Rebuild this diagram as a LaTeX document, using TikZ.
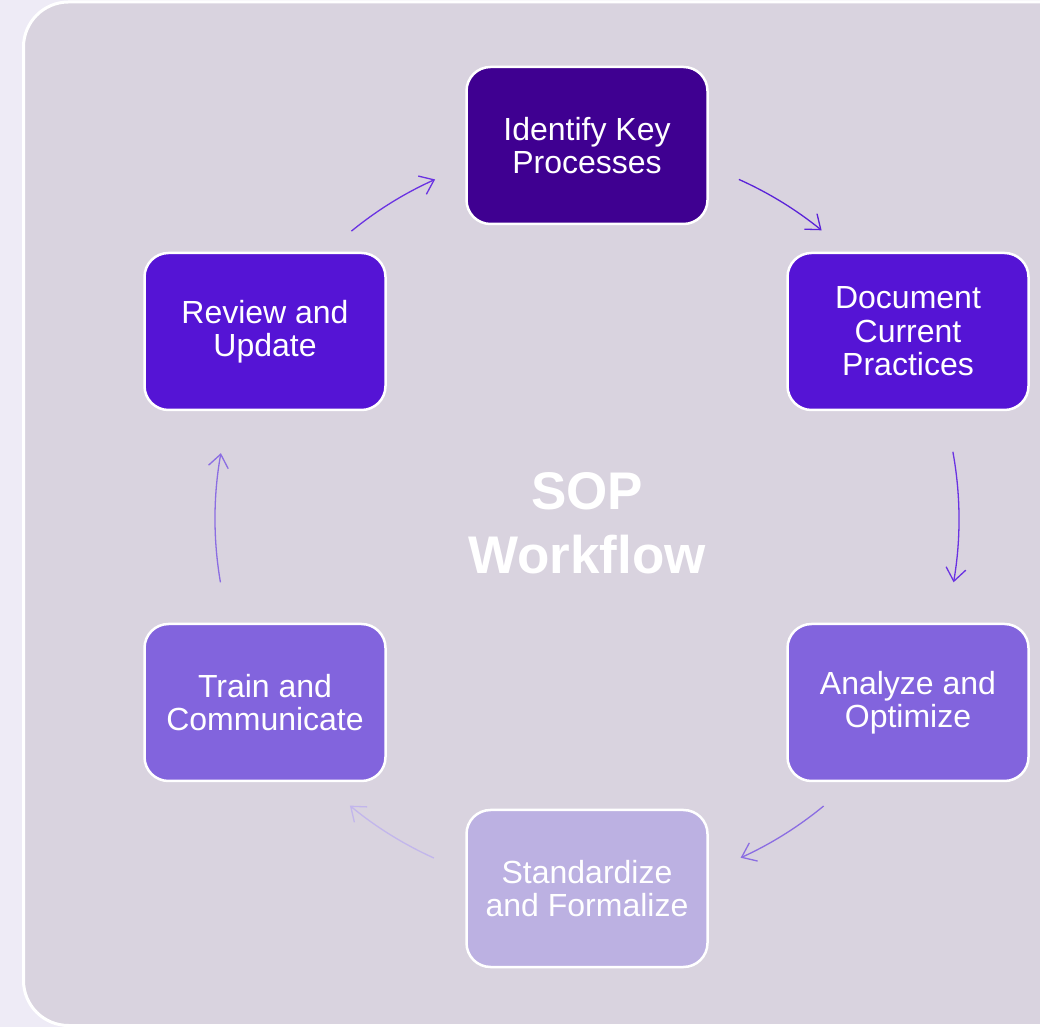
\documentclass[tikz,border=0pt]{standalone}
\usepackage{fontspec}
\setmainfont{Liberation Sans}
\usetikzlibrary{arrows.meta,calc}
\definecolor{outerbg}{HTML}{EEEBF6}
\definecolor{panelbg}{HTML}{D9D3DF}
\definecolor{cA}{HTML}{3F0091}
\definecolor{cB}{HTML}{5514D5}
\definecolor{cC}{HTML}{8264DD}
\definecolor{cD}{HTML}{BCB1E2}
\definecolor{arA}{HTML}{6A32E2}
\definecolor{arB}{HTML}{5A22D8}
\definecolor{arC}{HTML}{8B6DE2}
\definecolor{arD}{HTML}{C2B6EC}
\tikzset{
  stepbox/.style={draw=white, line width=2.5pt, rounded corners=24pt,
    minimum width=241pt, minimum height=157pt, text=white,
    font=\fontsize{32}{33.5}\selectfont, align=center, inner sep=0pt},
  flow/.style={line width=1.3pt, -{Straight Barb[length=13pt,width=20pt,line width=1.3pt]}}
}
\begin{document}
\begin{tikzpicture}[x=1pt,y=1pt]
\useasboundingbox (0,0) rectangle (1040,1027);
\fill[outerbg] (0,0) rectangle (1040,1027);
\draw[draw=white, fill=panelbg, line width=3pt, rounded corners=45pt] (23.5,1.5) rectangle (1090,1025);
\coordinate (c) at (587,508);
\node[stepbox, fill=cA] (n1) at (587,881.5) {Identify Key\\Processes};
\node[stepbox, fill=cB] (n2) at (908,695.5) {Document\\Current\\Practices};
\node[stepbox, fill=cC] (n3) at (908,324.5) {Analyze and\\Optimize};
\node[stepbox, fill=cD] (n4) at (587,138.5) {Standardize\\and Formalize};
\node[stepbox, fill=cC] (n5) at (265,324.5) {Train and\\Communicate};
\node[stepbox, fill=cB] (n6) at (265,695.5) {Review and\\Update};
\node[text=white, font=\bfseries\fontsize{53}{64}\selectfont, align=center] (t) at (587,504) {SOP\\Workflow};
\draw[flow, arA] ($(c)+(129.3:372)$) arc[start angle=129.3, end angle=114.1, radius=372];
\draw[flow, arB] ($(c)+(65.9:372)$) arc[start angle=65.9, end angle=50.9, radius=372];
\draw[flow, arA] ($(c)+(10.4:372)$) arc[start angle=10.4, end angle=-9.8, radius=372];
\draw[flow, arC] ($(c)+(-50.5:372)$) arc[start angle=-50.5, end angle=-65.6, radius=372];
\draw[flow, arD] ($(c)+(-114.3:372)$) arc[start angle=-114.3, end angle=-129.6, radius=372];
\draw[flow, arC] ($(c)+(189.8:372)$) arc[start angle=189.8, end angle=169.8, radius=372];
\end{tikzpicture}
\end{document}
